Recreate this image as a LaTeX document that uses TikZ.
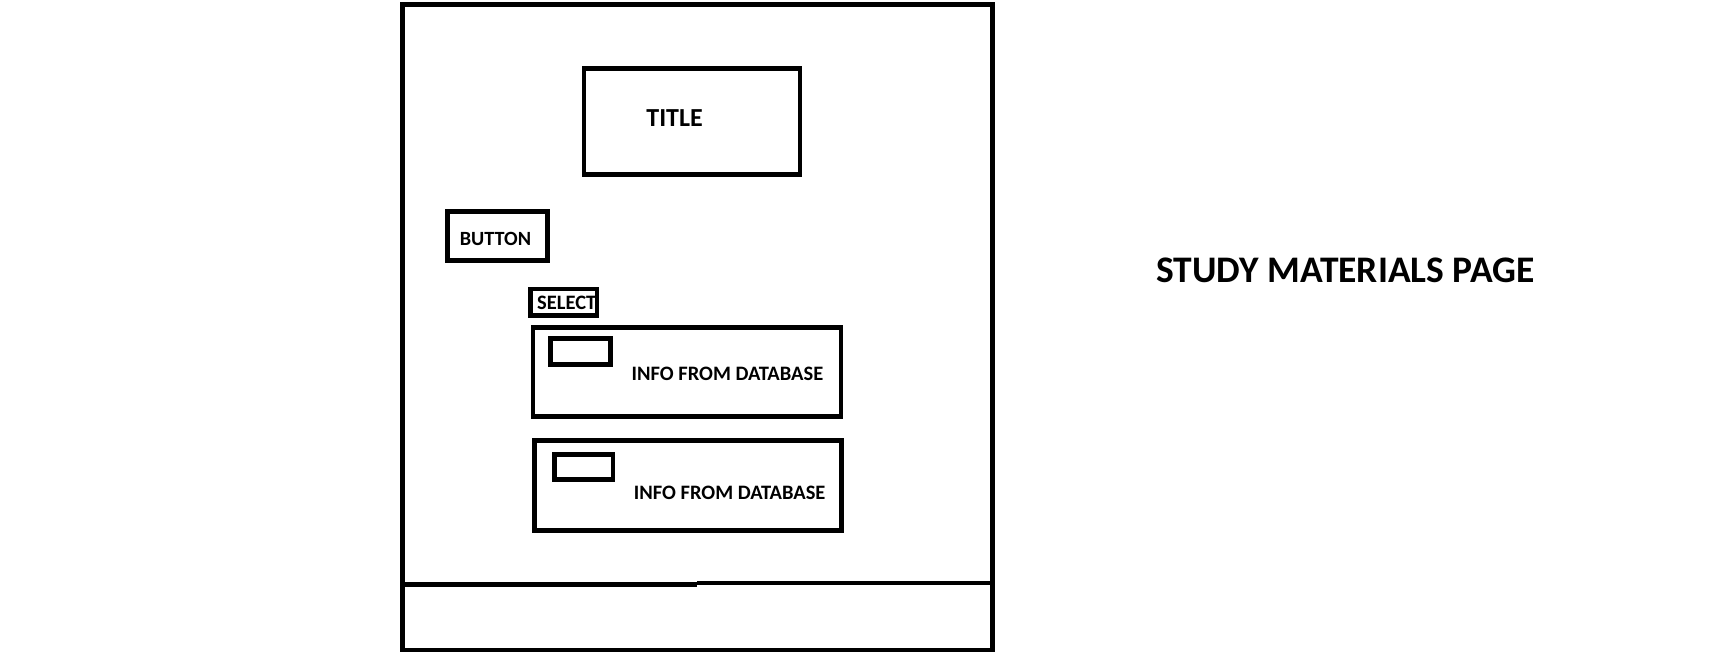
\documentclass[tikz,border=0pt]{standalone}
\usepackage{fontspec}
\setmainfont{Carlito}
\begin{document}
\begin{tikzpicture}[x=1pt,y=-1pt,
  box/.style={draw=black,line width=4.8pt,minimum width=#1,inner sep=0pt,outer sep=0pt,rectangle},
  lbl/.style={inner sep=0pt,font=\bfseries\fontsize{#1}{#1}\selectfont}]
\useasboundingbox[fill=white] (0,0) rectangle (1733,657);
% outer frame
\node[box=590pt,minimum height=645.7pt] (frame) at (697.5,327.15) {};
\coordinate (dl) at (402.5,584.3);
\coordinate (dm1) at (697,584.3);
\coordinate (dm2) at (697,583);
\coordinate (dr) at (992.5,583);
\draw[line width=4.8pt] (dl) -- (dm1);
\draw[line width=4.8pt] (dm2) -- (dr);
% title
\node[box=216pt,minimum height=106pt] (titlebox) at (692,121.2) {};
\node[lbl=26] (title) at (674.6,117.8) {TITLE};
% button
\node[box=99.8pt,minimum height=49pt] (buttonbox) at (497.7,235.8) {};
\node[lbl=20.2] (button) at (495.5,238.5) {BUTTON};
% select
\node[box=66.5pt,minimum height=26.3pt] (selectbox) at (563.75,302.15) {};
\node[lbl=20.5] (select) at (566.8,303) {SELECT};
% database rows
\node[box=308pt,minimum height=88.6pt] (db1) at (686.9,372) {};
\node[box=59.8pt,minimum height=26pt] (chk1) at (580.6,351.3) {};
\node[lbl=20.5] (info1) at (727.5,373.7) {INFO FROM DATABASE};
\node[box=307.6pt,minimum height=89.6pt] (db2) at (687.9,485.5) {};
\node[box=58.2pt,minimum height=25.4pt] (chk2) at (583.8,467) {};
\node[lbl=20.5] (info2) at (729.7,492.8) {INFO FROM DATABASE};
% page label
\node[lbl=37.5] (page) at (1345.5,270) {STUDY MATERIALS PAGE};
\end{tikzpicture}
\end{document}
